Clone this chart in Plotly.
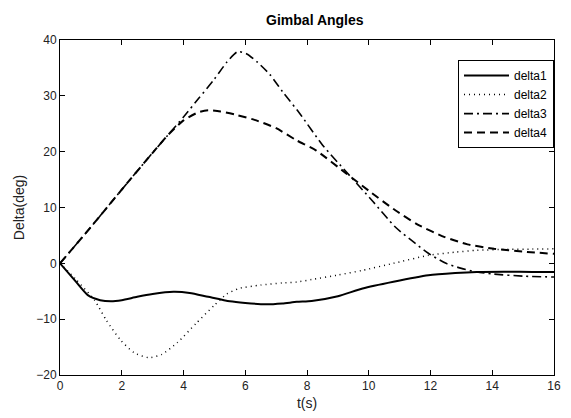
import plotly.graph_objects as go

# delta1 (solid)
t1 = [0, 0.5, 0.9, 1.3, 1.65, 2.0, 2.5, 3.0, 3.67, 4.2, 4.8, 5.5, 6.0, 6.65, 7.2, 7.67, 8.15, 9.0, 9.8, 10.8, 11.93, 12.8, 13.5, 14.5, 15.3, 16]
d1 = [0, -3.2, -5.7, -6.6, -6.8, -6.6, -6.0, -5.5, -5.1, -5.3, -6.0, -6.8, -7.1, -7.35, -7.2, -6.9, -6.75, -5.9, -4.5, -3.3, -2.15, -1.75, -1.55, -1.5, -1.55, -1.55]

# delta2 (dotted)
t2 = [0, 0.5, 1.12, 1.5, 1.97, 2.4, 2.87, 3.3, 3.8, 4.4, 5.0, 5.4, 5.8, 6.5, 7.2, 7.67, 8.15, 9.0, 9.8, 10.8, 11.93, 12.8, 13.5, 14.5, 15.3, 16]
d2 = [0, -2.8, -6.6, -10.2, -13.8, -16.0, -16.9, -16.3, -14.2, -10.8, -7.5, -5.5, -4.5, -3.9, -3.5, -3.35, -2.9, -2.1, -1.25, 0.0, 1.43, 2.0, 2.33, 2.5, 2.55, 2.6]

# delta3 (dash-dot)
t3 = [0, 1, 2, 3, 3.5, 4, 4.5, 5, 5.4, 5.75, 6.05, 6.4, 6.8, 7.2, 7.77, 8.5, 9.27, 10.1, 10.86, 11.5, 11.93, 12.5, 13.0, 13.5, 14.0, 15.0, 16]
d3 = [0, 6.5, 13.2, 19.8, 23.0, 26.2, 29.6, 33.0, 36.0, 37.9, 37.5, 36.0, 33.8, 30.8, 26.8, 21.2, 16.4, 11.3, 6.5, 3.6, 1.8, 0.0, -0.9, -1.55, -1.9, -2.3, -2.45]

# delta4 (dashed)
t4 = [0, 1, 2, 3, 3.5, 4, 4.5, 4.8, 5.2, 5.7, 6.3, 7.0, 7.67, 8.3, 9.27, 10.0, 10.86, 11.6, 12.46, 13.2, 14.06, 15.0, 16]
d4 = [0, 6.5, 13.2, 19.8, 23.0, 25.6, 27.1, 27.4, 27.2, 26.6, 25.7, 24.2, 22.0, 20.2, 16.1, 13.0, 9.5, 6.9, 4.7, 3.4, 2.6, 2.1, 1.7]

names = ["delta1", "delta2", "delta3", "delta4"]

fig = go.Figure()
fig.add_trace(go.Scatter(x=t1, y=d1, mode="lines", name=names[0], line=dict(color="black", width=2, shape="spline", smoothing=0.6)))
fig.add_trace(go.Scatter(x=t2, y=d2, mode="lines", name=names[1], line=dict(color="black", width=1.5, dash="1px,4px", shape="spline", smoothing=0.6)))
fig.add_trace(go.Scatter(x=t3, y=d3, mode="lines", name=names[2], line=dict(color="black", width=1.6, dash="9px,4px,2px,4px", shape="spline", smoothing=0.6)))
fig.add_trace(go.Scatter(x=t4, y=d4, mode="lines", name=names[3], line=dict(color="black", width=2, dash="8px,5px", shape="spline", smoothing=0.6)))

axis_common = dict(showline=True, linecolor="black", linewidth=1, mirror="allticks",
                   ticks="inside", ticklen=5, tickcolor="black", showgrid=False, zeroline=False,
                   tickfont=dict(family="Liberation Sans, Arial", size=12, color="#222"))

fig.update_layout(
    width=563, height=410,
    margin=dict(l=52, r=10, t=32, b=43),
    paper_bgcolor="white", plot_bgcolor="white",
    title=dict(text="<b>Gimbal Angles</b>", x=0.545, xanchor="center", y=0.97, yanchor="middle",
               font=dict(family="Liberation Sans, Arial", size=14, color="black")),
    xaxis=dict(range=[0, 16], dtick=2, title=dict(text="t(s)", standoff=5,
               font=dict(family="Liberation Sans, Arial", size=14, color="#222")), **axis_common),
    yaxis=dict(range=[-20, 40], dtick=10, title=dict(text="Delta(deg)", standoff=8,
               font=dict(family="Liberation Sans, Arial", size=14, color="#222")), **axis_common),
    legend=dict(x=1.0, y=0.94, xanchor="right", yanchor="top", bgcolor="white",
                bordercolor="black", borderwidth=1, itemwidth=45, tracegroupgap=0,
                font=dict(family="Liberation Sans, Arial", size=12, color="black")),
    showlegend=True,
)

fig.write_html("out.html")
